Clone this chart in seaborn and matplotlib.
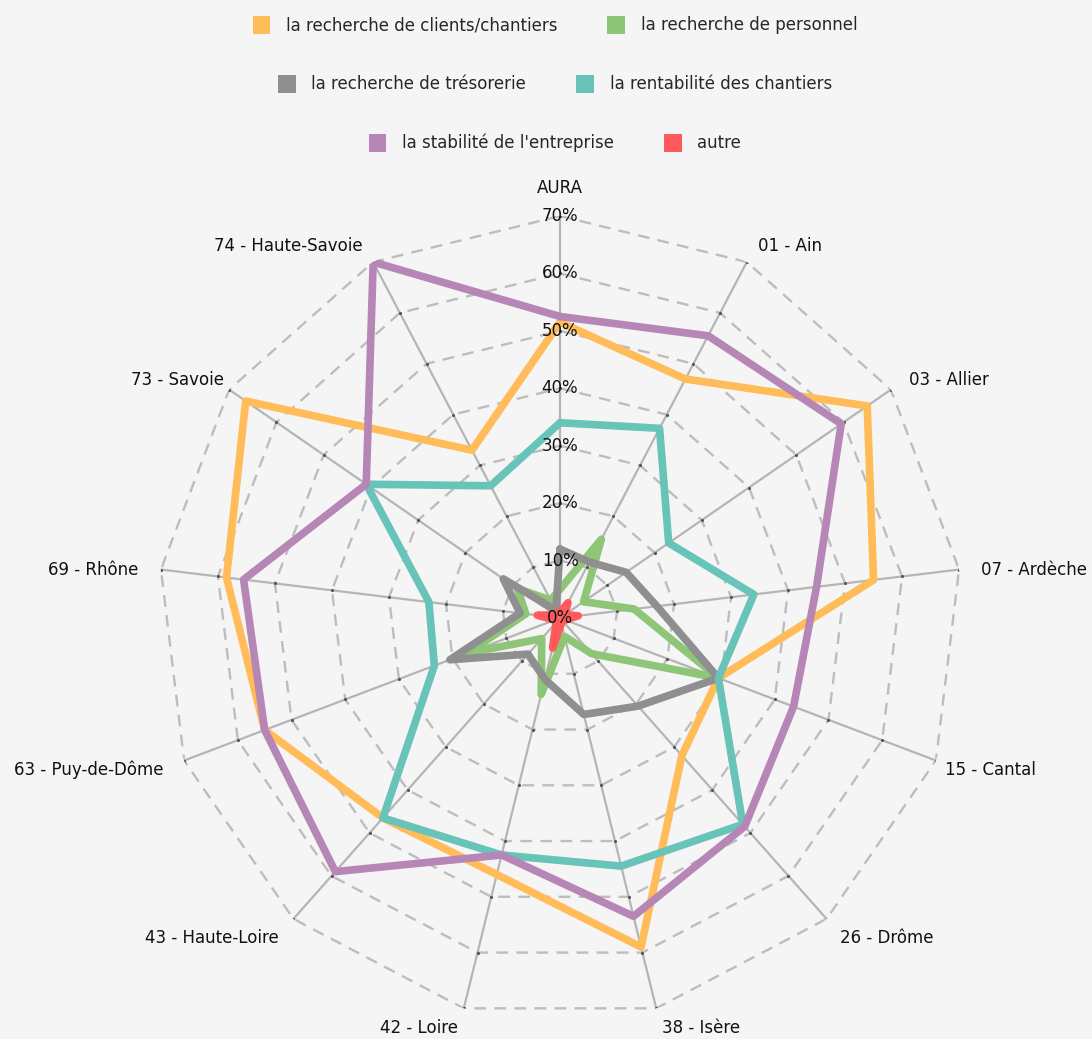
import numpy as np
import pandas as pd
import matplotlib
matplotlib.use("Agg")
import matplotlib.pyplot as plt
from matplotlib.patches import Patch
import seaborn as sns


categories = ["AURA", "01 - Ain", "03 - Allier", "07 - Ardèche", "15 - Cantal",
              "26 - Drôme", "38 - Isère", "42 - Loire", "43 - Haute-Loire",
              "63 - Puy-de-Dôme", "69 - Rhône", "73 - Savoie", "74 - Haute-Savoie"]

series_names = ["la recherche de clients/chantiers", "la recherche de personnel",
                "la recherche de trésorerie", "la rentabilité des chantiers",
                "la stabilité de l'entreprise", "autre"]

clients = [51.5, 47, 65, 55, 29.5, 32, 59, 46, 46.5, 55, 58.5, 66.5, 33]
personnel = [5, 15.5, 5, 13, 29.5, 8.3, 3.3, 13.7, 4.8, 17.3, 6, 9, 3.5]
tresorerie = [12, 11, 14, 17, 29.5, 20.5, 17.3, 11, 8.4, 20.5, 7, 12, 1.5]
rentabilite = [34, 37.3, 23, 34, 29.5, 48, 44.5, 42.5, 46.5, 23.4, 23, 41, 26]
stabilite = [52.5, 55.5, 59.5, 45, 43.5, 48.5, 53.5, 42.5, 59, 55, 55.5, 41, 70]
autre = [1, 3, 1, 3.2, 1, 0.5, 1, 5.4, 1, 1, 4, 1, 1]

ring_values = [10, 20, 30, 40, 50, 60, 70]
ring_labels = ["0%", "10%", "20%", "30%", "40%", "50%", "60%", "70%"]

colors = ["#ffbc58", "#8fc576", "#8f8f8f", "#68c3b8", "#b686b6", "#ff5a5c"]

# label offsets in pixels (dx, dy), positive dy = up
label_offsets = [(0, 28), (11, 16), (18, 10), (22, 0), (9, -9), (13, -19), (6, -20),
                 (-6, -20), (-15, -19), (-21, -9), (-23, 0), (-5, 10), (-11, 16)]

sns.set_theme(style="white")
plt.rcParams["font.family"] = ["DejaVu Sans"]
FS = 12

n = len(categories)
theta = np.linspace(0, 2 * np.pi, n, endpoint=False)
theta_closed = np.append(theta, 2 * np.pi)

rows = []
for name, vals in zip(series_names, [clients, personnel, tresorerie, rentabilite, stabilite, autre]):
    closed = list(vals) + [vals[0]]
    for t, v in zip(theta_closed, closed):
        rows.append({"theta": t, "value": v, "serie": name})
df = pd.DataFrame(rows)

W, H = 1092, 1039
fig = plt.figure(figsize=(W / 100, H / 100), dpi=100, facecolor="#f5f5f5")
cx, cy, R = 560, 1039 - 618, 402
ax = fig.add_axes([(cx - R) / W, (cy - R) / H, 2 * R / W, 2 * R / H], projection="polar")
ax.set_facecolor("none")
ax.set_theta_zero_location("N")
ax.set_theta_direction(-1)
ax.set_ylim(0, 70)
ax.grid(False)
ax.spines["polar"].set_visible(False)
ax.set_xticks([])
ax.set_yticks([])

# polygon grid
for r in ring_values:
    ax.plot(theta_closed, [r] * (n + 1), color="#bdbdbd", lw=1.7,
            ls=(0, (5, 3.5)), zorder=1)
for t in theta:
    ax.plot([t, t], [0, 70], color="#b5b5b5", lw=1.6, zorder=1)
tt, rr = np.meshgrid(theta, ring_values)
ax.scatter(tt.ravel(), rr.ravel(), s=5, color="#555555", zorder=2, linewidths=0)

sns.lineplot(data=df, x="theta", y="value", hue="serie", hue_order=series_names,
             palette=colors, lw=5.5, sort=False, estimator=None, legend=False,
             ax=ax, zorder=3)
ax.set_xlabel("")
ax.set_ylabel("")

for i, lab in enumerate(ring_labels):
    ax.text(0, i * 10, lab, ha="center", va="center", fontsize=FS,
            color="#111111", zorder=5)

for t, lab, (dx, dy) in zip(theta, categories, label_offsets):
    s = np.sin(t)
    ha = "left" if s > 0.05 else ("right" if s < -0.05 else "center")
    ax.annotate(lab, xy=(t, 70), xytext=(dx * 0.72, dy * 0.72),
                textcoords="offset points", ha=ha, va="center",
                fontsize=FS, color="#111111", annotation_clip=False)

# legend, 3 centered rows
row_y = [25, 84, 143]
for k in range(3):
    handles = [Patch(facecolor=colors[2 * k + j], edgecolor="none") for j in range(2)]
    fig.legend(handles, series_names[2 * k:2 * k + 2], loc="center",
               bbox_to_anchor=(555 / W, 1 - row_y[k] / H), ncol=2, frameon=False,
               fontsize=FS, handlelength=1.05, handleheight=1.35,
               handletextpad=0.95, columnspacing=3.0)

fig.savefig("out.png", dpi=100, facecolor=fig.get_facecolor())
